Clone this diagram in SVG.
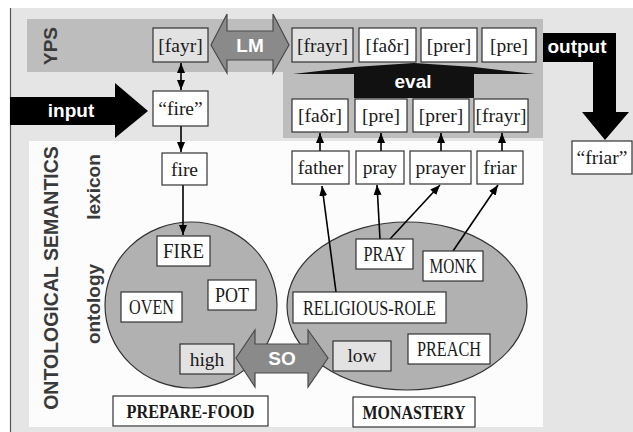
<svg xmlns="http://www.w3.org/2000/svg" width="633" height="432" viewBox="0 0 633 432">
<style>
.bx{stroke:#333;stroke-width:1.2;fill:#fff}
.lt{fill:#e2e2e2}
.t{font-family:"Liberation Serif",serif;font-size:19.5px;fill:#1a1a1a;text-anchor:middle}
.c{font-size:20px}
.b{font-weight:bold;font-size:19px}
.w{font-family:"Liberation Sans",Arial,sans-serif;font-weight:bold;font-size:19px;fill:#fff;text-anchor:middle}
.side{font-family:"Liberation Sans",Arial,sans-serif;font-weight:bold;font-size:19px;fill:#3a3a3a;text-anchor:middle}
.ar{stroke:#000;stroke-width:1.6;fill:none;marker-end:url(#ah)}
.dbl{fill:#8a8a8a;stroke:#4a4a4a;stroke-width:1.2}
.ell{fill:#b1b1b1;stroke:#333;stroke-width:1.2}
</style>
<defs>
<marker id="ah" viewBox="0 0 10 8" refX="10" refY="4" markerWidth="10" markerHeight="8" markerUnits="userSpaceOnUse" orient="auto-start-reverse">
<path d="M0,0 L10,4 L0,8 z" fill="#000"/>
</marker>
</defs>
<g id="background">
<rect x="0" y="0" width="633" height="432" fill="#fff"/>
<rect x="10" y="8" width="623" height="424" fill="#e5e5e5"/>
<line x1="10.5" y1="8" x2="10.5" y2="432" stroke="#555" stroke-width="1.2"/>
<path d="M27,19 H543 V138 H283 V72 H27 Z" fill="#bdbdbd"/>
<rect x="29" y="141" width="514" height="286" fill="#fcfcfc"/>
<text class="side" transform="translate(57,46) rotate(-90)">YPS</text>
<text class="side" transform="translate(58,278) rotate(-90)" style="font-size:19.5px">ONTOLOGICAL SEMANTICS</text>
<text class="side" transform="translate(100,187) rotate(-90)">lexicon</text>
<text class="side" transform="translate(100,304) rotate(-90)">ontology</text>
</g>
<g id="ellipses">
<ellipse id="prepare-food-area" class="ell" cx="191" cy="305" rx="86" ry="83"/>
<ellipse id="monastery-area" class="ell" cx="407" cy="306" rx="120" ry="84"/>
</g>
<g id="connectors">
<line class="ar" x1="181" y1="63" x2="181" y2="90" style="marker-start:url(#ah)"/>
<line class="ar" x1="181" y1="126" x2="181" y2="152"/>
<line class="ar" x1="183" y1="185" x2="183" y2="235"/>
<line class="ar" x1="320" y1="151" x2="320" y2="133"/>
<line class="ar" x1="381" y1="151" x2="381" y2="133"/>
<line class="ar" x1="441" y1="151" x2="441" y2="133"/>
<line class="ar" x1="502" y1="151" x2="502" y2="133"/>
<line class="ar" x1="336" y1="292" x2="322" y2="186"/>
<line class="ar" x1="380" y1="239" x2="377" y2="185"/>
<line class="ar" x1="390" y1="239" x2="440" y2="185"/>
<line class="ar" x1="453" y1="251" x2="498" y2="185"/>
</g>
<g id="input"><polygon points="10,97 115,97 115,83 148,111 115,138 115,125 10,125" fill="#000"/><text class="w" x="71" y="117">input</text></g>
<g id="output"><polygon points="543,33 616,33 616,112 629,112 605,140 582,112 593,112 593,62 543,62" fill="#000"/><text class="w" x="577" y="53">output</text></g>
<g id="LM"><polygon class="dbl" points="211,45 227,14 227,31 273,31 273,14 289,45 273,73 273,60 227,60 227,73"/><text class="w" x="250" y="52">LM</text></g>
<g id="SO"><polygon class="dbl" points="236,358 255,330 255,344 308,344 308,330 328,358 308,387 308,373 255,373 255,387"/><text class="w" x="282" y="365">SO</text></g>
<g id="eval"><polygon points="293,74 354,74 354,98 474,98 474,74 535,74 474,67 414,63 354,67" fill="#111"/><text class="w" x="413" y="88">eval</text></g>
<g id="yps-fayr"><rect class="bx lt" x="153" y="28" width="55" height="34"/><text class="t" x="180.5" y="51.5">[fayr]</text></g>
<g id="yps-frayr"><rect class="bx lt" x="292" y="28" width="61" height="34"/><text class="t" x="322.5" y="51.5">[frayr]</text></g>
<g id="yps-fadr"><rect class="bx" x="359" y="28" width="57" height="34"/><text class="t" x="387.5" y="51.5">[faδr]</text></g>
<g id="yps-prer"><rect class="bx" x="421" y="28" width="56" height="34"/><text class="t" x="449" y="51.5">[prer]</text></g>
<g id="yps-pre"><rect class="bx" x="482" y="28" width="54" height="34"/><text class="t" x="509" y="51.5">[pre]</text></g>
<g id="cand-fadr"><rect class="bx" x="292" y="99" width="56" height="33"/><text class="t" x="320" y="122">[faδr]</text></g>
<g id="cand-pre"><rect class="bx" x="355" y="99" width="52" height="33"/><text class="t" x="381" y="122">[pre]</text></g>
<g id="cand-prer"><rect class="bx" x="413" y="99" width="56" height="33"/><text class="t" x="441" y="122">[prer]</text></g>
<g id="cand-frayr"><rect class="bx" x="474" y="99" width="54" height="33"/><text class="t" x="501" y="122">[frayr]</text></g>
<g id="in-fire"><rect class="bx" x="153" y="91" width="55" height="35"/><text class="t" x="180.5" y="115">“fire”</text></g>
<g id="out-friar"><rect class="bx" x="572" y="141" width="60" height="33"/><text class="t" x="602" y="164">“friar”</text></g>
<g id="lex-fire"><rect class="bx" x="162" y="153" width="45" height="32"/><text class="t" x="184.5" y="175.5">fire</text></g>
<g id="lex-father"><rect class="bx" x="292" y="151" width="57" height="33"/><text class="t" x="320.5" y="174">father</text></g>
<g id="lex-pray"><rect class="bx" x="356" y="151" width="48" height="33"/><text class="t" x="380" y="174">pray</text></g>
<g id="lex-prayer"><rect class="bx" x="410" y="151" width="61" height="33"/><text class="t" x="440.5" y="174">prayer</text></g>
<g id="lex-friar"><rect class="bx" x="477" y="151" width="46" height="33"/><text class="t" x="500" y="174">friar</text></g>
<g id="FIRE"><rect class="bx" x="157" y="236" width="53" height="30"/><text class="t c" x="183.5" y="258" textLength="41" lengthAdjust="spacingAndGlyphs">FIRE</text></g>
<g id="POT"><rect class="bx" x="208" y="280" width="48" height="30"/><text class="t c" x="232" y="302" textLength="34" lengthAdjust="spacingAndGlyphs">POT</text></g>
<g id="OVEN"><rect class="bx" x="121" y="292" width="61" height="30"/><text class="t c" x="151.5" y="314" textLength="45" lengthAdjust="spacingAndGlyphs">OVEN</text></g>
<g id="high"><rect class="bx lt" x="180" y="344" width="54" height="30"/><text class="t" x="207" y="365.5">high</text></g>
<g id="PREPARE-FOOD"><rect class="bx" x="113" y="396" width="155" height="30"/><text class="t b" x="190.5" y="417.5" textLength="128" lengthAdjust="spacingAndGlyphs">PREPARE-FOOD</text></g>
<g id="PRAY"><rect class="bx" x="356" y="239" width="57" height="30"/><text class="t c" x="384.5" y="261" textLength="42" lengthAdjust="spacingAndGlyphs">PRAY</text></g>
<g id="MONK"><rect class="bx" x="423" y="251" width="60" height="30"/><text class="t c" x="453" y="273" textLength="47" lengthAdjust="spacingAndGlyphs">MONK</text></g>
<g id="RELIGIOUS-ROLE"><rect class="bx" x="293" y="292" width="153" height="31"/><text class="t c" x="369.5" y="314.5" textLength="133" lengthAdjust="spacingAndGlyphs">RELIGIOUS-ROLE</text></g>
<g id="low"><rect class="bx lt" x="333" y="341" width="58" height="30"/><text class="t" x="362" y="362">low</text></g>
<g id="PREACH"><rect class="bx" x="408" y="334" width="82" height="30"/><text class="t c" x="449" y="356" textLength="64" lengthAdjust="spacingAndGlyphs">PREACH</text></g>
<g id="MONASTERY"><rect class="bx" x="353" y="397" width="122" height="30"/><text class="t b" x="414" y="418.5" textLength="103" lengthAdjust="spacingAndGlyphs">MONASTERY</text></g>
</svg>
